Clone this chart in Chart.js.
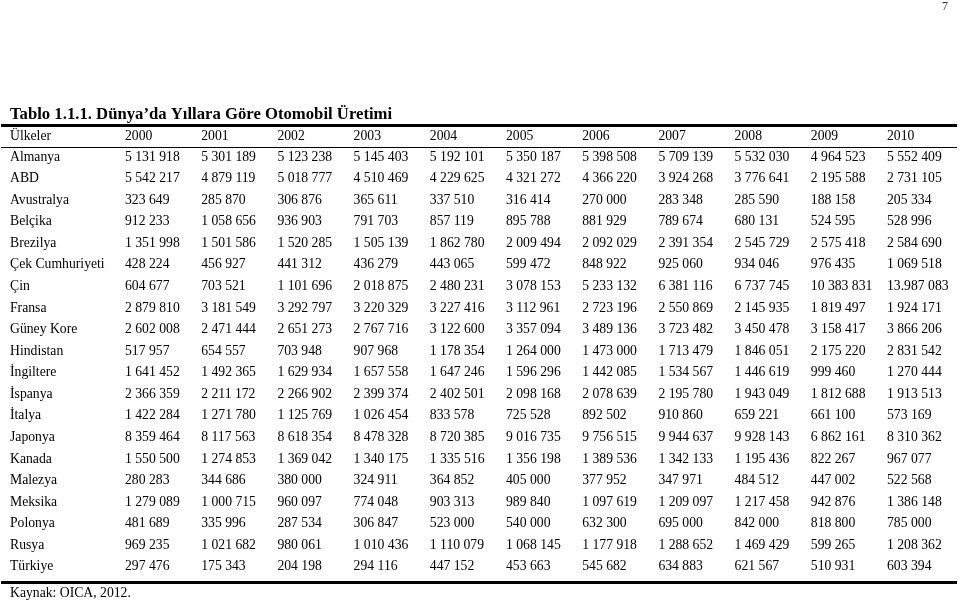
<!DOCTYPE html>
<html>
<head>
<meta charset="utf-8">
<script src="https://cdn.jsdelivr.net/npm/chart.js@4.4.1/dist/chart.umd.min.js"></script>
<style>
  body { margin: 0; background: #fff; }
  #wrap { width: 960px; height: 600px; position: relative; }
</style>
</head>
<body>
<div id="wrap"><canvas id="tablo"></canvas></div>
<script>
const years = ['2000', '2001', '2002', '2003', '2004', '2005', '2006', '2007', '2008', '2009', '2010']
const countries = ['Almanya', 'ABD', 'Avustralya', 'Belçika', 'Brezilya', 'Çek Cumhuriyeti', 'Çin', 'Fransa',
    'Güney Kore', 'Hindistan', 'İngiltere', 'İspanya', 'İtalya', 'Japonya', 'Kanada', 'Malezya', 'Meksika',
    'Polonya', 'Rusya', 'Türkiye']

const almanya = [5131918, 5301189, 5123238, 5145403, 5192101, 5350187, 5398508, 5709139, 5532030, 4964523, 5552409]
const abd = [5542217, 4879119, 5018777, 4510469, 4229625, 4321272, 4366220, 3924268, 3776641, 2195588, 2731105]
const avustralya = [323649, 285870, 306876, 365611, 337510, 316414, 270000, 283348, 285590, 188158, 205334]
const belcika = [912233, 1058656, 936903, 791703, 857119, 895788, 881929, 789674, 680131, 524595, 528996]
const brezilya = [1351998, 1501586, 1520285, 1505139, 1862780, 2009494, 2092029, 2391354, 2545729, 2575418, 2584690]
const cek = [428224, 456927, 441312, 436279, 443065, 599472, 848922, 925060, 934046, 976435, 1069518]
const cin = [604677, 703521, 1101696, 2018875, 2480231, 3078153, 5233132, 6381116, 6737745, 10383831, 13987083]
const fransa = [2879810, 3181549, 3292797, 3220329, 3227416, 3112961, 2723196, 2550869, 2145935, 1819497, 1924171]
const guneyKore = [2602008, 2471444, 2651273, 2767716, 3122600, 3357094, 3489136, 3723482, 3450478, 3158417, 3866206]
const hindistan = [517957, 654557, 703948, 907968, 1178354, 1264000, 1473000, 1713479, 1846051, 2175220, 2831542]
const ingiltere = [1641452, 1492365, 1629934, 1657558, 1647246, 1596296, 1442085, 1534567, 1446619, 999460, 1270444]
const ispanya = [2366359, 2211172, 2266902, 2399374, 2402501, 2098168, 2078639, 2195780, 1943049, 1812688, 1913513]
const italya = [1422284, 1271780, 1125769, 1026454, 833578, 725528, 892502, 910860, 659221, 661100, 573169]
const japonya = [8359464, 8117563, 8618354, 8478328, 8720385, 9016735, 9756515, 9944637, 9928143, 6862161, 8310362]
const kanada = [1550500, 1274853, 1369042, 1340175, 1335516, 1356198, 1389536, 1342133, 1195436, 822267, 967077]
const malezya = [280283, 344686, 380000, 324911, 364852, 405000, 377952, 347971, 484512, 447002, 522568]
const meksika = [1279089, 1000715, 960097, 774048, 903313, 989840, 1097619, 1209097, 1217458, 942876, 1386148]
const polonya = [481689, 335996, 287534, 306847, 523000, 540000, 632300, 695000, 842000, 818800, 785000]
const rusya = [969235, 1021682, 980061, 1010436, 1110079, 1068145, 1177918, 1288652, 1469429, 599265, 1208362]
const turkiye = [297476, 175343, 204198, 294116, 447152, 453663, 545682, 634883, 621567, 510931, 603394]

const rows = [almanya, abd, avustralya, belcika, brezilya, cek, cin, fransa, guneyKore, hindistan,
    ingiltere, ispanya, italya, japonya, kanada, malezya, meksika, polonya, rusya, turkiye]

// printed this way in the source table
const cellTextOverrides = { 'Çin|2010': '13.987 083' }

const titleText = 'Tablo 1.1.1. Dünya’da Yıllara Göre Otomobil Üretimi'
const headerText = 'Ülkeler'
const sourceText = 'Kaynak: OICA, 2012.'
const pageNo = '7'

function fmt(v) {
    return String(v).replace(/\B(?=(\d{3})+(?!\d))/g, ' ')
}

Chart.defaults.font.family = '"Liberation Serif", "Times New Roman", serif'
Chart.defaults.font.size = 13.7
Chart.defaults.color = '#000'

datasets = years.map((yr, i) => ({
    label: yr,
    data: countries.map((c, j) => ({ x: yr, y: c, v: rows[j][i] })),
    showLine: false,
    pointRadius: 0,
    pointHoverRadius: 0
}))

tablePlugin = {
    id: 'tablePlugin',
    afterDatasetsDraw(chart) {
        const ctx = chart.ctx
        const yScale = chart.scales.y
        const y0 = yScale.getPixelForValue(0)
        const yLast = yScale.getPixelForValue(countries.length - 1)
        ctx.save()
        ctx.fillStyle = '#000'
        ctx.font = '13.7px "Liberation Serif", serif'
        ctx.textAlign = 'left'
        ctx.textBaseline = 'middle'

        // cells
        chart.data.datasets.forEach((ds, i) => {
            const meta = chart.getDatasetMeta(i)
            meta.data.forEach((pt, j) => {
                const key = countries[j] + '|' + ds.label
                const txt = cellTextOverrides[key] || fmt(ds.data[j].v)
                ctx.fillText(txt, pt.x, pt.y)
            })
        })

        // header of first column
        ctx.fillText(headerText, yScale.left, y0 - 20.5)

        // rules
        ctx.strokeStyle = '#000'
        ctx.lineWidth = 3
        ctx.beginPath()
        ctx.moveTo(1, Math.round(y0 - 31) - 0.5)
        ctx.lineTo(chart.width - 3, Math.round(y0 - 31) - 0.5)
        ctx.moveTo(1, Math.round(yLast + 15) + 0.5)
        ctx.lineTo(chart.width - 3, Math.round(yLast + 15) + 0.5)
        ctx.stroke()
        ctx.lineWidth = 1
        ctx.beginPath()
        ctx.moveTo(1, Math.round(y0 - 10) + 0.5)
        ctx.lineTo(chart.width - 3, Math.round(y0 - 10) + 0.5)
        ctx.stroke()

        // page number
        ctx.fillStyle = '#333'
        ctx.font = '12px "Liberation Serif", serif'
        ctx.fillText(pageNo, 942, 7)
        ctx.restore()
    }
}

ctx = document.getElementById('tablo')
myChart = new Chart(ctx, {
    type: 'line',
    data: { datasets: datasets },
    options: {
        responsive: true,
        maintainAspectRatio: false,
        animation: false,
        events: [],
        layout: { padding: { left: 10, right: 73, top: 0, bottom: 0 } },
        plugins: {
            legend: { display: false },
            tooltip: { enabled: false },
            title: {
                display: true,
                text: titleText,
                align: 'start',
                color: '#000',
                font: { size: 16.7, weight: 'bold' },
                padding: { top: 105, bottom: 0 }
            },
            subtitle: {
                display: true,
                text: sourceText,
                position: 'bottom',
                align: 'start',
                color: '#000',
                font: { size: 13.7, weight: 'normal', lineHeight: 1 },
                padding: { top: 19.5, bottom: 0 }
            }
        },
        scales: {
            x: {
                type: 'category',
                labels: years,
                position: 'top',
                offset: false,
                grid: { display: false, drawTicks: false },
                border: { display: false },
                ticks: { align: 'start', padding: 12.3, maxRotation: 0, autoSkip: false },
                afterFit: (s) => { s.height = 31.96 }
            },
            y: {
                type: 'category',
                labels: countries,
                position: 'left',
                offset: false,
                grid: { display: false, drawTicks: false },
                border: { display: false },
                ticks: { crossAlign: 'far', autoSkip: false, padding: 0 },
                afterFit: (s) => { s.width = 115 }
            }
        }
    },
    plugins: [tablePlugin]
})
</script>
</body>
</html>
